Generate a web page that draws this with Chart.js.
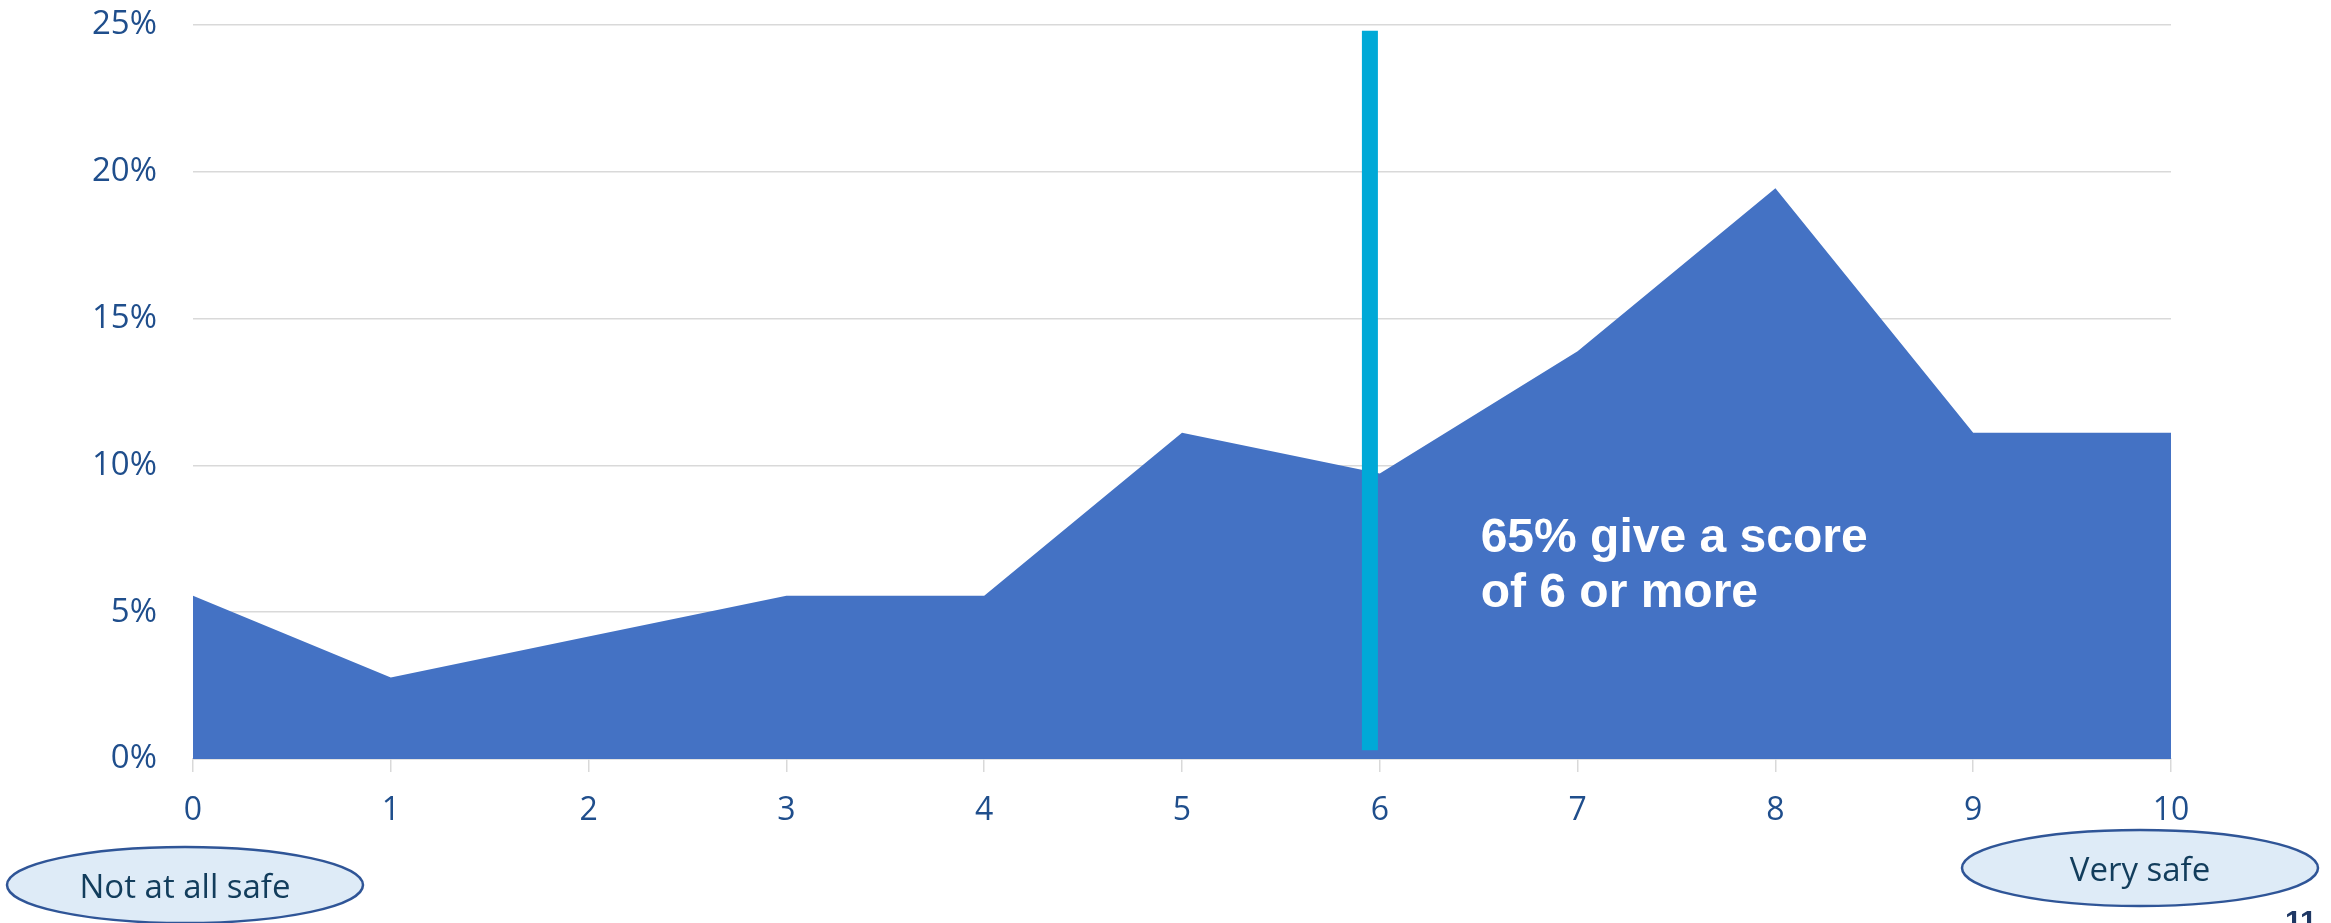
<!DOCTYPE html>
<html>
<head>
<meta charset="utf-8">
<script src="https://cdn.jsdelivr.net/npm/chart.js@4.4.1/dist/chart.umd.min.js"></script>
<style>
  html, body { margin: 0; padding: 0; background: #fff; }
  #wrap { width: 2331px; height: 923px; position: relative; }
</style>
</head>
<body>
<div id="wrap"><canvas id="safety-chart"></canvas></div>
<script>
// score 0-10 and share of respondents (%)
const scores = [0, 1, 2, 3, 4, 5, 6, 7, 8, 9, 10];
const shares = [5.56, 2.78, 4.17, 5.56, 5.56, 11.11, 9.72, 13.89, 19.44, 11.11, 11.11];
const yTicks = [0, 5, 10, 15, 20, 25];

// divider just left of score 6
const cutoffScore = 5.95;
const cutoffRange = [0.3, 24.8];
const noteLines = ["65% give a score", "of 6 or more"];
const endLabels = ["Not at all safe", "Very safe"];
const pageNo = "11";

const tickBlue = "#1F4E8C";
const gridGrey = "#D9D9D9";

// ellipses, note text and page number drawn straight onto the canvas
const extrasPlugin = {
  id: "extras",
  afterDatasetsDraw(chart) {
    const ctx = chart.ctx;
    const x = chart.scales.x, y = chart.scales.y;

    ctx.save();
    ctx.fillStyle = "#ffffff";
    ctx.font = "bold 48px 'Liberation Sans', Arial, sans-serif";
    ctx.textAlign = "left";
    ctx.textBaseline = "alphabetic";
    const nx = x.getPixelForValue(6.51);
    const ny = y.getPixelForValue(7.05);
    noteLines.forEach((t, i) => ctx.fillText(t, nx, ny + i * 55));
    ctx.restore();
  },
  afterDraw(chart) {
    const ctx = chart.ctx;
    const x = chart.scales.x;

    const ovals = [
      { cx: x.getPixelForValue(0) - 8, cy: 885, text: endLabels[0] },
      { cx: x.getPixelForValue(10) - 31, cy: 868, text: endLabels[1] }
    ];
    ctx.save();
    ovals.forEach(o => {
      ctx.beginPath();
      ctx.ellipse(o.cx, o.cy, 178, 38, 0, 0, Math.PI * 2);
      ctx.fillStyle = "#DEEBF7";
      ctx.fill();
      ctx.lineWidth = 2.5;
      ctx.strokeStyle = "#2F5597";
      ctx.stroke();
      ctx.fillStyle = "#123D5C";
      ctx.font = "33px 'Open Sans', sans-serif";
      ctx.textAlign = "center";
      ctx.textBaseline = "middle";
      ctx.fillText(o.text, o.cx, o.cy + 4);
    });

    ctx.fillStyle = "#1F3864";
    ctx.font = "bold 30px 'Liberation Sans', Arial, sans-serif";
    ctx.textAlign = "left";
    ctx.textBaseline = "top";
    ctx.fillText(pageNo, 2285, 908);
    ctx.restore();
  }
};

new Chart("safety-chart", {
  type: "line",
  data: {
    datasets: [{
      label: "cutoff",
      data: cutoffRange.map(v => ({ x: cutoffScore, y: v })),
      borderColor: "#00A9D7",
      borderWidth: 16,
      borderCapStyle: "butt",
      pointRadius: 0,
      fill: false
    }, {
      label: "share",
      data: scores.map((s, i) => ({ x: s, y: shares[i] })),
      backgroundColor: "#4472C4",
      borderWidth: 0,
      pointRadius: 0,
      tension: 0,
      fill: "origin"
    }]
  },
  options: {
    responsive: true,
    maintainAspectRatio: false,
    animation: false,
    layout: { autoPadding: false, padding: { left: 0, top: 25, right: 160, bottom: 0 } },
    plugins: {
      legend: { display: false },
      tooltip: { enabled: false }
    },
    scales: {
      x: {
        type: "linear",
        min: 0,
        max: 10,
        afterFit: (scale) => {
          scale.height = 164;
          scale.paddingTop = 0;
          scale.paddingBottom = 0;
        },
        grid: {
          drawOnChartArea: false,
          drawTicks: true,
          tickLength: 13,
          color: gridGrey,
          lineWidth: 1.5
        },
        border: { color: gridGrey, width: 1.5 },
        ticks: {
          stepSize: 1,
          padding: 20,
          color: tickBlue,
          font: { family: "'Open Sans', sans-serif", size: 32 }
        }
      },
      y: {
        min: 0,
        max: 25,
        afterFit: (scale) => {
          scale.width = 193;
          scale.paddingTop = 0;
          scale.paddingBottom = 0;
        },
        afterBuildTicks: (scale) => { scale.ticks = yTicks.map(v => ({ value: v })); },
        grid: { drawTicks: false, color: gridGrey, lineWidth: 1.5 },
        border: { display: false },
        ticks: {
          padding: 36,
          color: tickBlue,
          font: { family: "'Open Sans', sans-serif", size: 33 },
          callback: (v) => v + "%"
        }
      }
    }
  },
  plugins: [extrasPlugin]
});
</script>
</body>
</html>
